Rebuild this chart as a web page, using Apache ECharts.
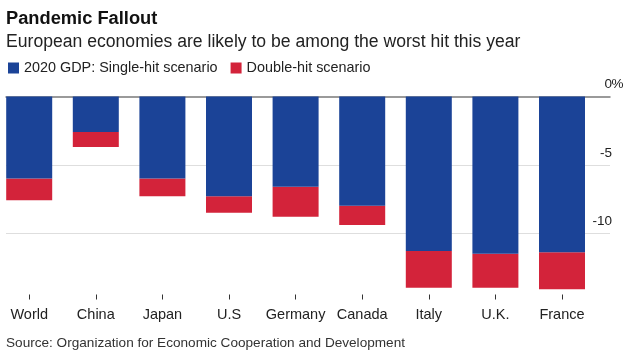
<!DOCTYPE html>
<html><head><meta charset="utf-8">
<script src="https://cdn.jsdelivr.net/npm/echarts@6/dist/echarts.min.js"></script>
<style>html,body{margin:0;padding:0;background:#fff}#c{width:631px;height:355px}</style>
</head><body><div id="c"></div>
<script>
const categories = ['World', 'China', 'Japan', 'U.S', 'Germany', 'Canada', 'Italy', 'U.K.', 'France'];
const singleHit = [-6.0, -2.6, -6.0, -7.3, -6.6, -8.0, -11.3, -11.5, -11.4];
const doubleHit = [-7.6, -3.7, -7.3, -8.5, -8.8, -9.4, -14.0, -14.0, -14.1];
const seriesNames = ['2020 GDP: Single-hit scenario', 'Double-hit scenario'];
const yMin = -15, yMax = 0, yStep = 5;

// extra loss of the double-hit scenario beyond the single-hit one (stacked below it)
const doubleExtra = doubleHit.map((d, i) => Math.round((d - singleHit[i]) * 10) / 10);

const FONT = '"Liberation Sans", Arial, Helvetica, sans-serif';
const BLUE = '#1b4397';
const RED = '#d3233a';

const chart = echarts.init(document.getElementById('c'), null, {renderer: 'canvas'});
chart.setOption({
  animation: false,
  backgroundColor: '#ffffff',
  textStyle: {fontFamily: FONT},
  title: [
    {text: 'Pandemic Fallout', left: 1, top: 5,
     textStyle: {fontFamily: FONT, fontSize: 18.3, fontWeight: 'bold', color: '#111'}},
    {text: 'European economies are likely to be among the worst hit this year', left: 1, top: 28,
     textStyle: {fontFamily: FONT, fontSize: 17.6, fontWeight: 'normal', color: '#222'}},
    {text: 'Source: Organization for Economic Cooperation and Development', left: 1, top: 331,
     textStyle: {fontFamily: FONT, fontSize: 13.6, fontWeight: 'normal', color: '#333'}}
  ],
  legend: {
    left: 3, top: 56, icon: 'rect', itemWidth: 11, itemHeight: 11, itemGap: 13,
    data: seriesNames,
    textStyle: {fontFamily: FONT, fontSize: 14.4, color: '#222'}
  },
  grid: [
    {left: 6, right: 21, top: 96.5, height: 205, containLabel: false, outerBoundsMode: 'none'},
    {left: -4.1, width: 599.4, top: 96.5, height: 205, containLabel: false, outerBoundsMode: 'none'}
  ],
  xAxis: [
    {type: 'category', gridIndex: 0, position: 'top', data: categories,
     axisLine: {show: true, lineStyle: {color: '#7a7a7a', width: 1.5}},
     axisTick: {show: false}, axisLabel: {show: false}, splitLine: {show: false}},
    {type: 'category', gridIndex: 1, position: 'bottom', offset: -7, data: categories,
     axisLine: {show: true, onZero: false, lineStyle: {color: 'rgba(0,0,0,0)', width: 1}},
     axisTick: {show: true, interval: 0, alignWithLabel: true, length: 5, lineStyle: {color: '#333', width: 1}},
     axisLabel: {show: true, interval: 0, margin: 13, fontFamily: FONT, fontSize: 14.5, color: '#222'},
     splitLine: {show: false}}
  ],
  yAxis: [
    {type: 'value', gridIndex: 0, position: 'right', min: yMin, max: yMax, interval: yStep,
     axisLine: {show: false}, axisTick: {show: false},
     splitLine: {show: true, showMinLine: false, showMaxLine: false, lineStyle: {color: '#dedede', width: 1}},
     axisLabel: {
       show: true, showMinLabel: false, margin: 13, align: 'right', verticalAlign: 'bottom',
       padding: [0, 0, 5, 0],
       fontFamily: FONT, fontSize: 13.5, color: '#222',
       formatter: v => v === yMin ? '' : (v === 0 ? '0{p|%}' : v + '{p| }'),
       rich: {p: {width: 11, align: 'left', fontFamily: FONT, fontSize: 13.5, color: '#222'}}
     }},
    {type: 'value', gridIndex: 1, min: yMin, max: yMax, interval: yStep, show: false,
     splitLine: {show: false}}
  ],
  series: [
    {name: seriesNames[0], type: 'bar', xAxisIndex: 1, yAxisIndex: 1, data: singleHit,
     stack: 'gdp', barWidth: 46, itemStyle: {color: BLUE}, z: 3},
    {name: seriesNames[1], type: 'bar', xAxisIndex: 1, yAxisIndex: 1, data: doubleExtra,
     stack: 'gdp', barWidth: 46, itemStyle: {color: RED}, z: 2}
  ]
});
</script></body></html>
